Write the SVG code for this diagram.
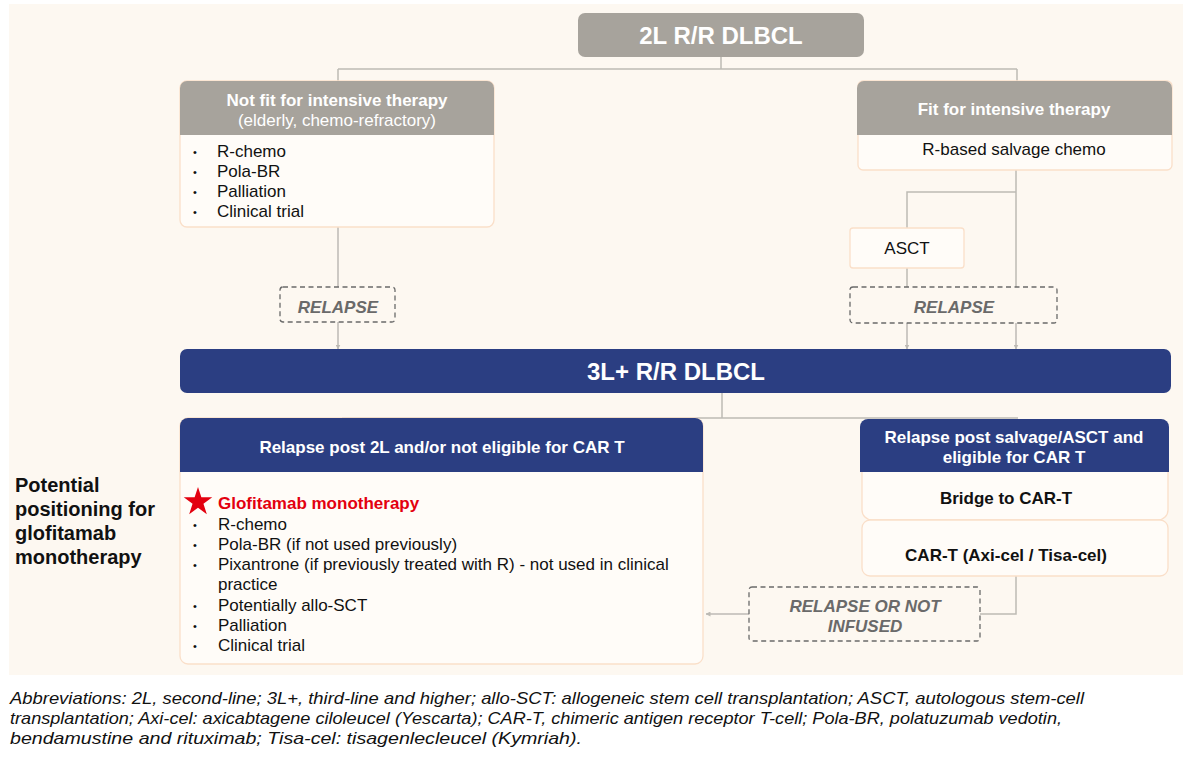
<svg xmlns="http://www.w3.org/2000/svg" width="1192" height="765" viewBox="0 0 1192 765">
<style>
text{font-family:"Liberation Sans",Arial,sans-serif}
.hdrg{fill:#A7A39C}
.navy{fill:#2B3E82}
.body{fill:#FFFCF8;stroke:#FADFC9;stroke-width:1.3}
.wb{fill:#fff;font-weight:bold;font-size:17px;text-anchor:middle}
.wr{fill:#fff;font-size:17px;text-anchor:middle}
.big{fill:#fff;font-weight:bold;font-size:24px;text-anchor:middle}
.t{fill:#111;font-size:17px}
.bul{fill:#111;font-size:11px}
.bb{fill:#111;font-weight:bold;font-size:17px;text-anchor:middle}
.dash{fill:none;stroke:#6A6A6A;stroke-width:1.3;stroke-dasharray:5,3.5}
.dt{fill:#6A6A6A;font-weight:bold;font-style:italic;font-size:17px;text-anchor:middle}
.conn{fill:none;stroke:#BDBAB4;stroke-width:1.5}
.abbr{fill:#111;font-style:italic;font-size:17px}
.lab{font-weight:bold;font-size:20px;fill:#111}
</style>
<defs>
<marker id="ah" viewBox="0 0 10 10" refX="9" refY="5" markerWidth="5" markerHeight="5" orient="auto" markerUnits="userSpaceOnUse">
<path d="M0,0 L10,5 L0,10 z" fill="#BDBAB4"/>
</marker>
</defs>
<rect x="9" y="4" width="1174" height="671" fill="#FDF8F1"/>

<g id="connectors">
<path class="conn" d="M721,57 V69 M338,69 H1017 M338,69 V81 M1017,69 V81"/>
<path class="conn" d="M338,227 V287"/>
<path class="conn" d="M338,322 V349" marker-end="url(#ah)"/>
<path class="conn" d="M1016,170 V287 M1016,192 H907 V228 M907,268 V287"/>
<path class="conn" d="M907,323 V349" marker-end="url(#ah)"/>
<path class="conn" d="M1016,323 V349" marker-end="url(#ah)"/>
<path class="conn" d="M722,393 V418 M342,418 H1018"/>
<path class="conn" d="M1016,576 V614 H980"/>
<path class="conn" d="M749,614 H706" marker-end="url(#ah)"/>
</g>

<g id="n2L">
<rect x="578" y="13" width="286" height="44" rx="7" class="hdrg"/>
<text x="721" y="44" class="big">2L R/R DLBCL</text>
</g>

<g id="notfit">
<rect x="180" y="81" width="314" height="146" rx="7" class="body"/>
<path d="M180,135 V88 a7,7 0 0 1 7,-7 H487 a7,7 0 0 1 7,7 V135 z" class="hdrg"/>
<text x="337" y="106" class="wb">Not fit for intensive therapy</text>
<text x="337" y="126" class="wr">(elderly, chemo-refractory)</text>
<text x="193" y="156" class="bul">•</text><text x="217" y="157" class="t">R-chemo</text>
<text x="193" y="176" class="bul">•</text><text x="217" y="177" class="t">Pola-BR</text>
<text x="193" y="196" class="bul">•</text><text x="217" y="197" class="t">Palliation</text>
<text x="193" y="216" class="bul">•</text><text x="217" y="217" class="t">Clinical trial</text>
</g>

<g id="fit">
<rect x="858" y="81" width="314" height="89" rx="5" class="body"/>
<path d="M857,135 V88 a7,7 0 0 1 7,-7 H1165 a7,7 0 0 1 7,7 V135 z" class="hdrg"/>
<text x="1014" y="115" class="wb">Fit for intensive therapy</text>
<text x="1014" y="155" class="t" text-anchor="middle">R-based salvage chemo</text>
</g>

<g id="asct">
<rect x="850" y="228" width="114" height="40" rx="3" class="body"/>
<text x="907" y="254" class="t" text-anchor="middle">ASCT</text>
</g>

<g id="relapseL">
<rect x="280" y="287" width="115" height="35" rx="3" class="dash"/>
<text x="338" y="313" class="dt">RELAPSE</text>
</g>

<g id="relapseR">
<rect x="850" y="287" width="207" height="36" rx="3" class="dash"/>
<text x="954" y="313" class="dt">RELAPSE</text>
</g>

<g id="n3L">
<rect x="180" y="349" width="991" height="44" rx="7" class="navy"/>
<text x="676" y="380" class="big">3L+ R/R DLBCL</text>
</g>

<g id="label">
<text x="15" y="492" class="lab">Potential</text>
<text x="15" y="516" class="lab">positioning for</text>
<text x="15" y="540" class="lab">glofitamab</text>
<text x="15" y="564" class="lab">monotherapy</text>
</g>

<g id="post2L">
<rect x="180" y="418" width="523" height="246" rx="8" class="body"/>
<path d="M180,472 V426 a8,8 0 0 1 8,-8 H695 a8,8 0 0 1 8,8 V472 z" class="navy"/>
<text x="442" y="453" class="wb">Relapse post 2L and/or not eligible for CAR T</text>
<polygon fill="#E3000F" points="198,487 201.37,497.36 212.27,497.36 203.45,503.77 206.82,514.14 198,507.73 189.18,514.14 192.55,503.77 183.73,497.36 194.63,497.36"/>
<text x="218" y="509" style="fill:#E3000F;font-weight:bold;font-size:17px">Glofitamab monotherapy</text>
<text x="193" y="529" class="bul">•</text><text x="218" y="530" class="t">R-chemo</text>
<text x="193" y="549" class="bul">•</text><text x="218" y="550" class="t">Pola-BR (if not used previously)</text>
<text x="193" y="569" class="bul">•</text><text x="218" y="570" class="t">Pixantrone (if previously treated with R) - not used in clinical</text>
<text x="218" y="590" class="t">practice</text>
<text x="193" y="610" class="bul">•</text><text x="218" y="611" class="t">Potentially allo-SCT</text>
<text x="193" y="630" class="bul">•</text><text x="218" y="631" class="t">Palliation</text>
<text x="193" y="650" class="bul">•</text><text x="218" y="651" class="t">Clinical trial</text>
</g>

<g id="postASCT">
<path d="M860,472 V427 a8,8 0 0 1 8,-8 H1161 a8,8 0 0 1 8,8 V472 z" class="navy"/>
<text x="1014" y="443" class="wb">Relapse post salvage/ASCT and</text>
<text x="1014" y="463" class="wb">eligible for CAR T</text>
</g>

<g id="bridge">
<path d="M862,472 V510 a10,10 0 0 0 10,10 H1158 a10,10 0 0 0 10,-10 V472" class="body"/>
<text x="1006" y="504" class="bb">Bridge to CAR-T</text>
</g>

<g id="cart">
<rect x="862" y="520" width="306" height="56" rx="8" class="body"/>
<text x="1006" y="561" class="bb">CAR-T (Axi-cel / Tisa-cel)</text>
</g>

<g id="relapseNot">
<rect x="749" y="587" width="231" height="54" rx="3" class="dash"/>
<text x="865" y="612" class="dt">RELAPSE OR NOT</text>
<text x="865" y="632" class="dt">INFUSED</text>
</g>

<g id="abbr">
<text x="10" y="704" class="abbr" textLength="1074" lengthAdjust="spacingAndGlyphs">Abbreviations: 2L, second-line; 3L+, third-line and higher; allo-SCT: allogeneic stem cell transplantation; ASCT, autologous stem-cell</text>
<text x="10" y="724" class="abbr" textLength="1052" lengthAdjust="spacingAndGlyphs">transplantation; Axi-cel: axicabtagene ciloleucel (Yescarta); CAR-T, chimeric antigen receptor T-cell; Pola-BR, polatuzumab vedotin,</text>
<text x="10" y="744" class="abbr" textLength="572" lengthAdjust="spacingAndGlyphs">bendamustine and rituximab; Tisa-cel: tisagenlecleucel (Kymriah).</text>
</g>
</svg>
